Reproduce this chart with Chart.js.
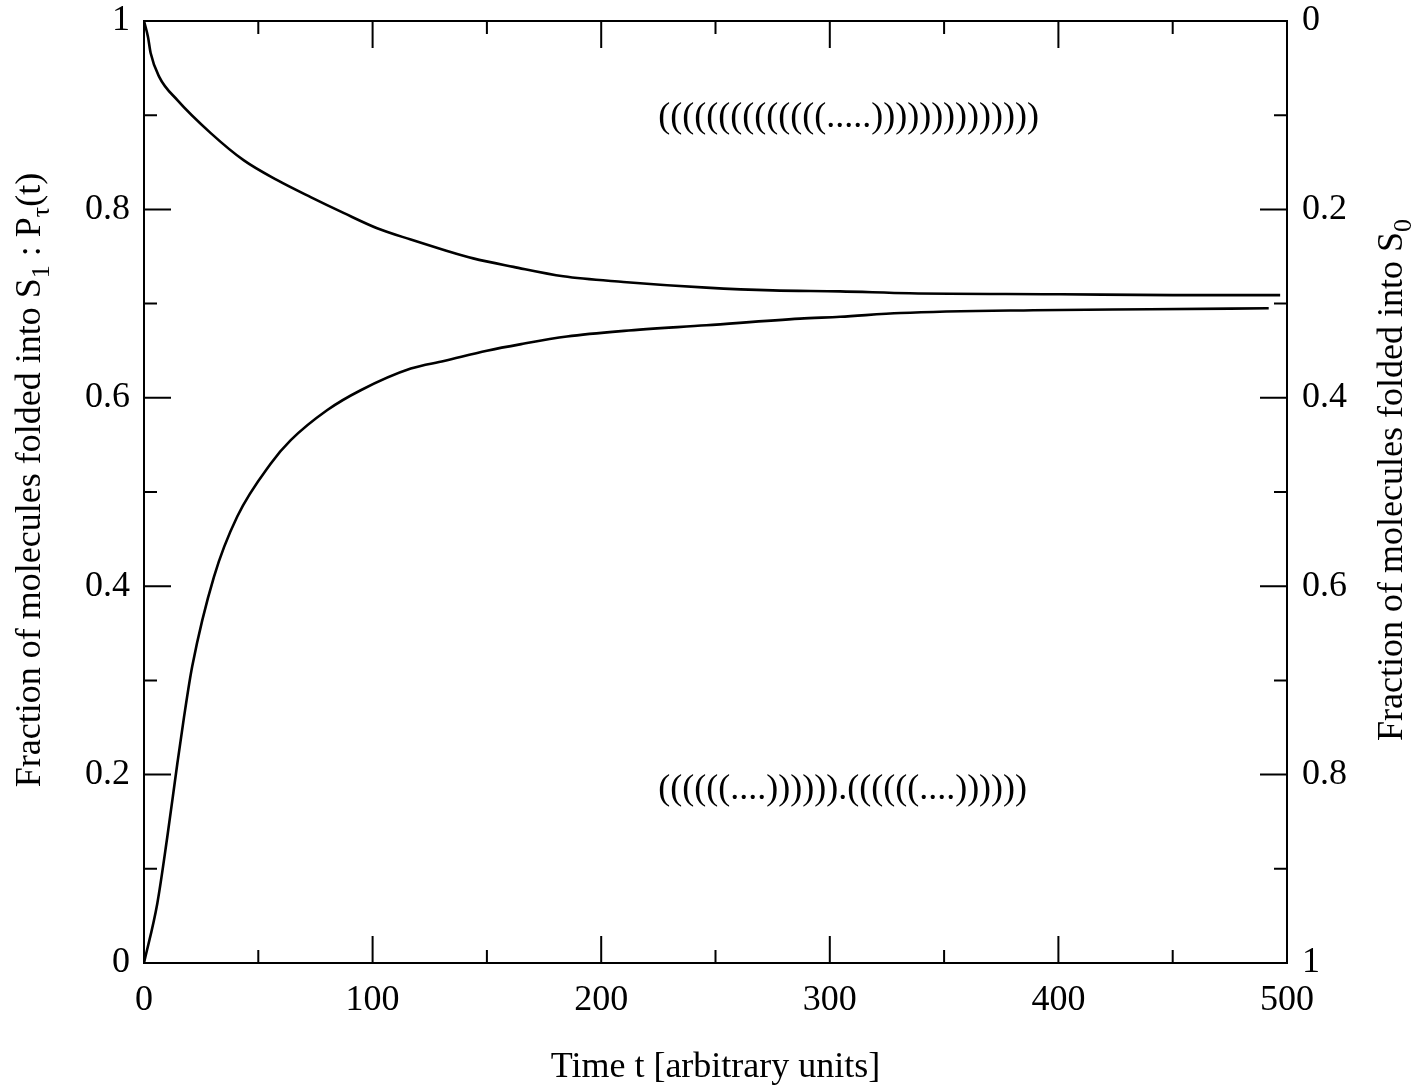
<!DOCTYPE html>
<html>
<head>
<meta charset="utf-8">
<script src="https://cdn.jsdelivr.net/npm/chart.js@4/dist/chart.umd.min.js"></script>
<style>
  html, body { margin: 0; padding: 0; background: #fff; }
  #wrap { width: 1424px; height: 1088px; }
</style>
</head>
<body>
<div id="wrap"><canvas id="c" width="1424" height="1088"></canvas></div>
<script>
// Fraction of molecules folded into S1 (left axis), time in arbitrary units
const s1Time = [0, 5.8, 10.2, 14.6, 17.5, 21.1, 30.6, 40.8, 55.4, 64.2, 80.2, 94.8, 116.7, 131.2, 150, 165, 185, 210, 246, 287, 304.5, 331, 389, 440, 492];
const s1Frac = [0, 0.063, 0.134, 0.212, 0.261, 0.315, 0.410, 0.474, 0.530, 0.555, 0.587, 0.608, 0.631, 0.639, 0.650, 0.657, 0.665, 0.671, 0.677, 0.684, 0.686, 0.690, 0.693, 0.694, 0.695];

// Fraction of molecules folded into S0 (right axis, reversed)
const s0Time = [0, 1.75, 2.9, 6.6, 14.6, 29.2, 43.7, 58.3, 72.9, 87.5, 102, 116.7, 131.2, 144, 161.6, 183.4, 209.7, 246, 275, 304.5, 335, 400.7, 450, 497];
const s0Frac = [0, 0.017, 0.034, 0.059, 0.084, 0.119, 0.148, 0.169, 0.187, 0.204, 0.220, 0.232, 0.243, 0.252, 0.261, 0.271, 0.277, 0.283, 0.286, 0.287, 0.289, 0.290, 0.291, 0.291];

// Tick values
const xTicks = [0, 100, 200, 300, 400, 500];
const yTicks = [0, 0.2, 0.4, 0.6, 0.8, 1];

// Secondary-structure strings written inside the plot
const structureLabels = ['((((((((((((((.....))))))))))))))', '((((((....)))))).((((((....))))))'];

const FONT = "'Liberation Serif', 'Times New Roman', serif";
const toPoints = (xs, ys) => xs.map((x, i) => ({ x: x, y: ys[i] }));
const plainNumber = v => String(Math.round(v * 10) / 10);

function drawRich(ctx, parts, size, subSize, subDrop) {
  let total = 0;
  const widths = parts.map(p => {
    ctx.font = (p.sub ? subSize : size) + 'px ' + FONT;
    const w = ctx.measureText(p.text).width;
    total += w;
    return w;
  });
  let x = -total / 2;
  parts.forEach((p, i) => {
    ctx.font = (p.sub ? subSize : size) + 'px ' + FONT;
    ctx.fillText(p.text, x, p.sub ? subDrop : 0);
    x += widths[i];
  });
}

const framePlugin = {
  id: 'frame',
  afterDraw(chart) {
    const ctx = chart.ctx;
    const a = chart.chartArea;
    const xs = chart.scales.x, ys = chart.scales.y;
    ctx.save();
    ctx.strokeStyle = '#000';
    ctx.lineWidth = 2;
    ctx.strokeRect(a.left, a.top, a.right - a.left, a.bottom - a.top);

    // inward ticks on all four sides
    ctx.beginPath();
    for (let v = 0; v <= 500; v += 50) {
      const px = xs.getPixelForValue(v);
      const len = v % 100 === 0 ? 27 : 13;
      ctx.moveTo(px, a.bottom); ctx.lineTo(px, a.bottom - len);
      ctx.moveTo(px, a.top); ctx.lineTo(px, a.top + len);
    }
    for (let k = 0; k <= 10; k++) {
      const py = ys.getPixelForValue(k / 10);
      const len = k % 2 === 0 ? 27 : 13;
      ctx.moveTo(a.left, py); ctx.lineTo(a.left + len, py);
      ctx.moveTo(a.right, py); ctx.lineTo(a.right - len, py);
    }
    ctx.stroke();

    // structure strings
    ctx.fillStyle = '#000';
    ctx.font = '36px ' + FONT;
    ctx.textAlign = 'left';
    ctx.textBaseline = 'middle';
    ctx.fillText(structureLabels[0], xs.getPixelForValue(225), ys.getPixelForValue(0.898));
    ctx.fillText(structureLabels[1], xs.getPixelForValue(225), ys.getPixelForValue(0.184));

    // axis titles
    ctx.save();
    ctx.translate((a.left + a.right) / 2, 1068);
    drawRich(ctx, [{ text: 'Time t [arbitrary units]' }], 36, 26, 10);
    ctx.restore();

    ctx.save();
    ctx.translate(31, 480);
    ctx.rotate(-Math.PI / 2);
    drawRich(ctx, [
      { text: 'Fraction of molecules folded into S' },
      { text: '1', sub: true },
      { text: ' : P' },
      { text: '\u03c4', sub: true },
      { text: '(t)' }
    ], 36, 26, 11);
    ctx.restore();

    ctx.save();
    ctx.translate(1393, 480);
    ctx.rotate(-Math.PI / 2);
    drawRich(ctx, [
      { text: 'Fraction of molecules folded into S' },
      { text: '0', sub: true }
    ], 36, 26, 11);
    ctx.restore();
    ctx.restore();
  }
};

const tickFont = { family: FONT, size: 36 };
const noEdgePadding = s => { s.paddingTop = 0; s.paddingBottom = 0; s.paddingLeft = 0; s.paddingRight = 0; };

new Chart(document.getElementById('c'), {
  type: 'scatter',
  data: {
    datasets: [
      {
        label: 'S1',
        data: toPoints(s1Time, s1Frac),
        yAxisID: 'y',
        showLine: true,
        borderColor: '#000',
        borderWidth: 2.6,
        pointRadius: 0,
        cubicInterpolationMode: 'monotone'
      },
      {
        label: 'S0',
        data: toPoints(s0Time, s0Frac),
        yAxisID: 'y2',
        showLine: true,
        borderColor: '#000',
        borderWidth: 2.6,
        pointRadius: 0,
        cubicInterpolationMode: 'monotone'
      }
    ]
  },
  options: {
    responsive: false,
    animation: false,
    events: [],
    layout: { padding: { top: 21, left: 0, right: 0, bottom: 0 } },
    plugins: { legend: { display: false }, tooltip: { enabled: false } },
    scales: {
      x: {
        type: 'linear', position: 'bottom', min: 0, max: 500,
        afterBuildTicks: s => { s.ticks = xTicks.map(v => ({ value: v })); },
        afterFit: s => { s.height = 125; noEdgePadding(s); },
        grid: { drawOnChartArea: false, drawTicks: false },
        border: { display: false },
        ticks: { color: '#000', font: tickFont, padding: 16, maxRotation: 0, callback: plainNumber }
      },
      y: {
        type: 'linear', position: 'left', min: 0, max: 1,
        afterBuildTicks: s => { s.ticks = yTicks.map(v => ({ value: v })); },
        afterFit: s => { s.width = 144; noEdgePadding(s); },
        grid: { drawOnChartArea: false, drawTicks: false },
        border: { display: false },
        ticks: { color: '#000', font: tickFont, padding: 14, callback: plainNumber }
      },
      y2: {
        type: 'linear', position: 'right', min: 0, max: 1, reverse: true,
        afterBuildTicks: s => { s.ticks = yTicks.map(v => ({ value: v })); },
        afterFit: s => { s.width = 137; noEdgePadding(s); },
        grid: { drawOnChartArea: false, drawTicks: false },
        border: { display: false },
        ticks: { color: '#000', font: tickFont, padding: 15, callback: plainNumber }
      }
    }
  },
  plugins: [framePlugin]
});
</script>
</body>
</html>
